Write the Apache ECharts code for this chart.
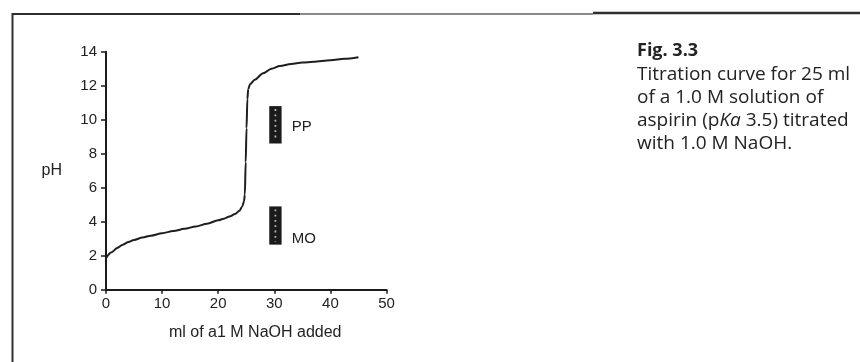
<!DOCTYPE html>
<html>
<head>
<meta charset="utf-8">
<style>
  html, body { margin: 0; padding: 0; background: #ffffff; }
  #chart { width: 860px; height: 362px; }
</style>
<script src="https://cdn.jsdelivr.net/npm/echarts@6/dist/echarts.min.js"></script>
</head>
<body>
<div id="chart"></div>
<script>
// ---- data ----
const naohVolume = [0, 1, 2, 3, 4, 5, 6.5, 8, 10, 12, 14, 16, 18, 20, 21, 22, 23, 23.8, 24.3, 24.6, 24.75, 24.9, 25.05, 25.2, 25.35, 25.7, 26.5, 28, 29.5, 31, 33, 35, 37, 40, 42.5, 45];
const phValues   = [1.85, 2.2, 2.45, 2.65, 2.8, 2.93, 3.07, 3.18, 3.32, 3.45, 3.58, 3.72, 3.88, 4.08, 4.18, 4.3, 4.45, 4.65, 4.9, 5.2, 5.6, 7.5, 9.5, 11.2, 11.8, 12.1, 12.35, 12.73, 13.0, 13.16, 13.28, 13.36, 13.41, 13.5, 13.58, 13.67];

const indicatorNames = ['PP', 'MO'];
const indicatorXStart = [29.1, 29.1];
const indicatorXEnd   = [31.3, 31.3];
const indicatorLow    = [8.6, 2.65];
const indicatorHigh   = [10.8, 4.9];
const indicatorLabelX = [33.1, 33.1];
const indicatorLabelY = [9.6, 3.0];

const xTicks = [0, 10, 20, 30, 40, 50];
const yTicks = [0, 2, 4, 6, 8, 10, 12, 14];

const xAxisName = 'ml of a1 M NaOH added';
const yAxisName = 'pH';
const captionTitle = 'Fig. 3.3';
const captionLines = ['Titration curve for 25 ml', 'of a 1.0 M solution of', 'aspirin (p{i|Ka} 3.5) titrated', 'with 1.0 M NaOH.'];

// ---- build ----
const curveData = naohVolume.map((v, i) => [v, phValues[i]]);
const indicatorData = indicatorNames.map((n, i) => [indicatorXStart[i], indicatorXEnd[i], indicatorLow[i], indicatorHigh[i], indicatorLabelX[i], indicatorLabelY[i], n]);

const axisFont = 'Liberation Sans, Arial, sans-serif';
const textColor = '#222222';
const chart = echarts.init(document.getElementById('chart'), null, { renderer: 'canvas' });

chart.setOption({
  animation: false,
  backgroundColor: '#ffffff',
  grid: { left: 106, right: 473.5, top: 51.7, bottom: 72.3, containLabel: false },
  xAxis: {
    type: 'value', min: 0, max: 50, interval: 10,
    name: xAxisName, nameLocation: 'middle', nameGap: 35,
    nameTextStyle: { fontFamily: axisFont, fontSize: 16, color: textColor, padding: [0, 0, 0, 18] },
    axisLine: { show: true, lineStyle: { color: '#1a1a1a', width: 2 } },
    axisTick: { show: true, length: 4, lineStyle: { color: '#1a1a1a', width: 1.5 } },
    axisLabel: { margin: 7, fontFamily: axisFont, fontSize: 15, color: textColor,
      formatter: v => xTicks.includes(v) ? String(v) : '' },
    splitLine: { show: false }
  },
  yAxis: {
    type: 'value', min: 0, max: 14, interval: 2,
    name: yAxisName, nameLocation: 'middle', nameGap: 44, nameRotate: 0,
    nameTextStyle: { fontFamily: axisFont, fontSize: 16, color: textColor, padding: [0, 0, 8, 0] },
    axisLine: { show: true, lineStyle: { color: '#1a1a1a', width: 2 } },
    axisTick: { show: true, length: 5, lineStyle: { color: '#1a1a1a', width: 1.5 } },
    axisLabel: { margin: 9, fontFamily: axisFont, fontSize: 15, color: textColor,
      formatter: v => yTicks.includes(v) ? String(v) : '' },
    splitLine: { show: false }
  },
  series: [
    {
      type: 'line', data: curveData, symbol: 'none', smooth: 0.3, smoothMonotone: 'x',
      lineStyle: { color: '#1e1e1e', width: 2 }, z: 3
    },
    {
      type: 'custom', data: indicatorData, encode: { x: [0, 1], y: [2, 3] }, z: 4,
      renderItem: (params, api) => {
        const x0 = api.value(0), x1 = api.value(1), lo = api.value(2), hi = api.value(3);
        const p0 = api.coord([x0, hi]);
        const p1 = api.coord([x1, lo]);
        const pl = api.coord([api.value(4), api.value(5)]);
        const cx = (p0[0] + p1[0]) / 2;
        return {
          type: 'group',
          children: [
            { type: 'rect', shape: { x: p0[0], y: p0[1], width: p1[0] - p0[0], height: p1[1] - p0[1] },
              style: { fill: '#1b1b1b' } },
            { type: 'line', shape: { x1: cx, y1: p0[1] + 3, x2: cx, y2: p1[1] - 3 },
              style: { stroke: '#b5b5b5', lineWidth: 1.8, lineDash: [1.8, 3.5] } },
            { type: 'text', x: pl[0], y: pl[1],
              style: { text: indicatorNames[params.dataIndex], fill: textColor, font: '15px ' + axisFont,
                textAlign: 'left', textVerticalAlign: 'middle' } }
          ]
        };
      }
    }
  ],
  graphic: [
    { type: 'line', shape: { x1: 12, y1: 14, x2: 300, y2: 14 }, style: { stroke: '#2e2e2e', lineWidth: 2 } },
    { type: 'line', shape: { x1: 300, y1: 14, x2: 593, y2: 14 }, style: { stroke: '#8a8a8a', lineWidth: 2 } },
    { type: 'line', shape: { x1: 593, y1: 13, x2: 860, y2: 13 }, style: { stroke: '#2e2e2e', lineWidth: 2.5 } },
    { type: 'line', shape: { x1: 12.5, y1: 13, x2: 12.5, y2: 362 }, style: { stroke: '#2e2e2e', lineWidth: 2 } },
    { type: 'text', left: 637, top: 42,
      style: { text: captionTitle, fill: textColor, font: 'bold 18px "Open Sans", sans-serif' } },
    { type: 'text', left: 637, top: 63,
      style: { text: captionLines.join('\n'), fill: textColor, font: '19px "Open Sans", sans-serif', lineHeight: 23,
        rich: { i: { fontStyle: 'italic', fontSize: 19, fontFamily: 'Open Sans', fill: textColor, lineHeight: 23 } } } }
  ]
});
</script>
</body>
</html>
